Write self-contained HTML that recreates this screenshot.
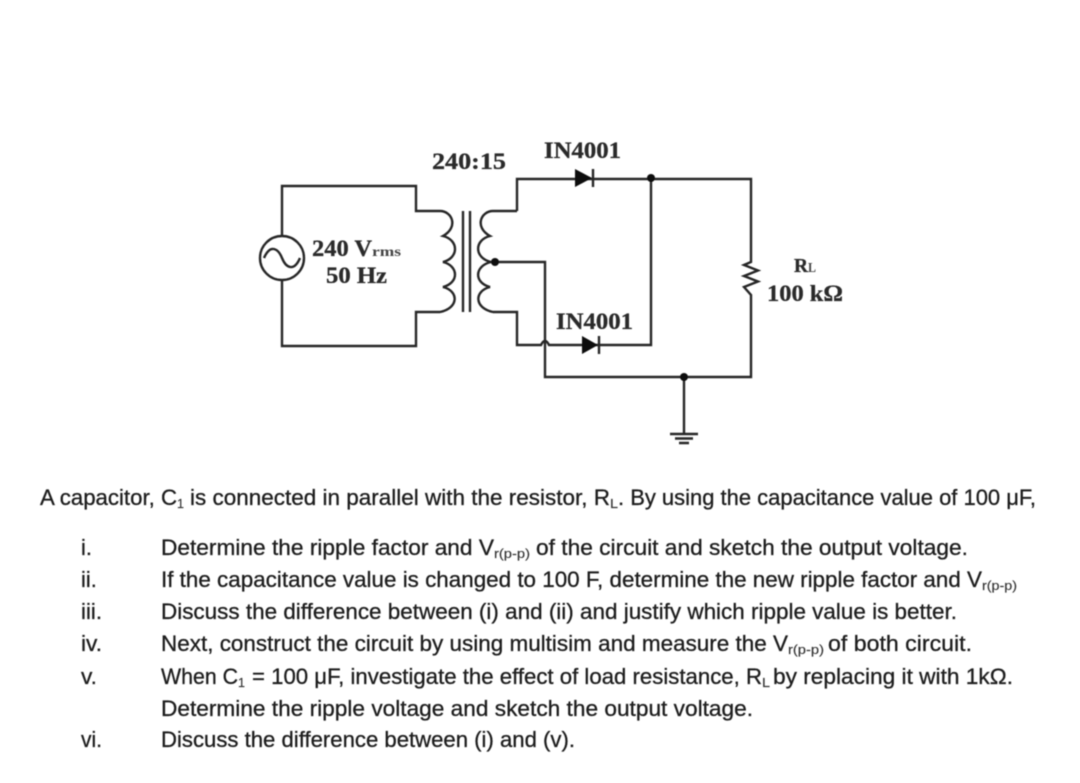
<!DOCTYPE html>
<html>
<head>
<meta charset="utf-8">
<style>
html,body{margin:0;padding:0;background:#fff}
svg{display:block}
.w{fill:none;stroke:#262626;stroke-width:2.4;stroke-linejoin:miter}
.t{font-family:"Liberation Sans",sans-serif;font-size:22px;fill:#1e1e1e;stroke:#1e1e1e;stroke-width:.3}
.s{font-family:"Liberation Sans",sans-serif;font-size:13px;fill:#333;stroke:#333;stroke-width:.15}
.c{font-family:"Liberation Serif",serif;font-size:23px;font-weight:bold;fill:#2c2c2c;stroke:#2c2c2c;stroke-width:.3}
.cs{font-family:"Liberation Serif",serif;font-size:14px;font-weight:bold;fill:#444}
</style>
</head>
<body>
<svg width="1080" height="783" viewBox="0 0 1080 783" xmlns="http://www.w3.org/2000/svg">
<defs><filter id="b" x="-5%" y="-5%" width="110%" height="110%"><feGaussianBlur stdDeviation="0.5"/></filter></defs>
<rect width="1080" height="783" fill="#fff"/>
<g filter="url(#b)">
<path class="w" d="M282 236V186H416V211H440C452 211 459 227 443 236C459 240 459 258 443 262C459 266 459 283 443 287C459 291 459 308 440 312H416V346H282V280"/>
<circle class="w" cx="282" cy="258" r="22"/>
<path class="w" d="M264 258C270 244 278 248 282 258S294 272 300 258"/>
<path class="w" d="M463 211V312M470 211V312"/>
<path class="w" d="M517 211H493C481 211 474 227 490 236C474 240 474 258 491 262C474 266 474 283 490 287C474 291 474 308 493 312H517V345H541Q545 337 549 345H651V178"/>
<path class="w" d="M517 211V179H751V262L744 265L758 270.500L744 276L758 281.500L744 287L751 295V377H545V262H491"/>
<path class="w" d="M684 377V434"/>
<path class="w" d="M670 434H698M675 438.500H693M679 443H689"/>
<circle cx="495" cy="262" r="4" fill="#111"/>
<circle cx="651" cy="178" r="4" fill="#111"/>
<circle cx="684" cy="377" r="4" fill="#111"/>
<path d="M575 169V187L592 178Z" fill="#111"/>
<path class="w" d="M593 169V187"/>
<path d="M582 336V354L598 345Z" fill="#111"/>
<path class="w" d="M599 336V354"/>

<text class="c" x="432" y="169" textLength="74" lengthAdjust="spacingAndGlyphs">240:15</text>
<text class="c" x="544" y="158" textLength="77" lengthAdjust="spacingAndGlyphs">IN4001</text>
<text class="c" x="556" y="329" textLength="77" lengthAdjust="spacingAndGlyphs">IN4001</text>
<text class="c" x="312" y="256" textLength="60" lengthAdjust="spacingAndGlyphs">240 V</text>
<text class="cs" x="372" y="256" textLength="29" lengthAdjust="spacingAndGlyphs">rms</text>
<text class="c" x="326" y="283" textLength="61" lengthAdjust="spacingAndGlyphs">50 Hz</text>
<text class="c" x="794" y="272" style="font-size:20px" textLength="14" lengthAdjust="spacingAndGlyphs">R</text>
<text class="cs" x="808" y="272" textLength="8" lengthAdjust="spacingAndGlyphs">L</text>
<text class="c" x="767" y="301" textLength="76" lengthAdjust="spacingAndGlyphs">100 kΩ</text>
</g>
<g filter="url(#b)">
<text class="t" x="40" y="505" textLength="137" lengthAdjust="spacingAndGlyphs">A capacitor, C</text>
<text class="s" x="177" y="508" textLength="7" lengthAdjust="spacingAndGlyphs">1</text>
<text class="t" x="190" y="505" textLength="420" lengthAdjust="spacingAndGlyphs">is connected in parallel with the resistor, R</text>
<text class="s" x="610" y="508" textLength="8" lengthAdjust="spacingAndGlyphs">L</text>
<text class="t" x="618" y="505" textLength="418" lengthAdjust="spacingAndGlyphs">. By using the capacitance value of 100 μF,</text>

<text class="t" x="81" y="555">i.</text>
<text class="t" x="81" y="587">ii.</text>
<text class="t" x="81" y="619" textLength="21" lengthAdjust="spacingAndGlyphs">iii.</text>
<text class="t" x="81" y="651" textLength="21" lengthAdjust="spacingAndGlyphs">iv.</text>
<text class="t" x="81" y="684" textLength="16" lengthAdjust="spacingAndGlyphs">v.</text>
<text class="t" x="81" y="747" textLength="21" lengthAdjust="spacingAndGlyphs">vi.</text>

<text class="t" x="161" y="555" textLength="333" lengthAdjust="spacingAndGlyphs">Determine the ripple factor and V</text>
<text class="s" x="494" y="558" textLength="36" lengthAdjust="spacingAndGlyphs">r(p-p)</text>
<text class="t" x="536" y="555" textLength="432" lengthAdjust="spacingAndGlyphs">of the circuit and sketch the output voltage.</text>

<text class="t" x="161" y="587" textLength="821" lengthAdjust="spacingAndGlyphs">If the capacitance value is changed to 100 F, determine the new ripple factor and V</text>
<text class="s" x="982" y="590" textLength="35" lengthAdjust="spacingAndGlyphs">r(p-p)</text>

<text class="t" x="161" y="619" textLength="796" lengthAdjust="spacingAndGlyphs">Discuss the difference between (i) and (ii) and justify which ripple value is better.</text>

<text class="t" x="161" y="651" textLength="627" lengthAdjust="spacingAndGlyphs">Next, construct the circuit by using multisim and measure the V</text>
<text class="s" x="788" y="654" textLength="36" lengthAdjust="spacingAndGlyphs">r(p-p)</text>
<text class="t" x="828" y="651" textLength="144" lengthAdjust="spacingAndGlyphs">of both circuit.</text>

<text class="t" x="161" y="684" textLength="77" lengthAdjust="spacingAndGlyphs">When C</text>
<text class="s" x="238" y="687" textLength="7" lengthAdjust="spacingAndGlyphs">1</text>
<text class="t" x="252" y="684" textLength="510" lengthAdjust="spacingAndGlyphs">= 100 μF, investigate the effect of load resistance, R</text>
<text class="s" x="762" y="687" textLength="8" lengthAdjust="spacingAndGlyphs">L</text>
<text class="t" x="773" y="684" textLength="240" lengthAdjust="spacingAndGlyphs">by replacing it with 1kΩ.</text>

<text class="t" x="161" y="716" textLength="592" lengthAdjust="spacingAndGlyphs">Determine the ripple voltage and sketch the output voltage.</text>
<text class="t" x="161" y="747" textLength="414" lengthAdjust="spacingAndGlyphs">Discuss the difference between (i) and (v).</text>
</g>
</svg>
</body>
</html>
